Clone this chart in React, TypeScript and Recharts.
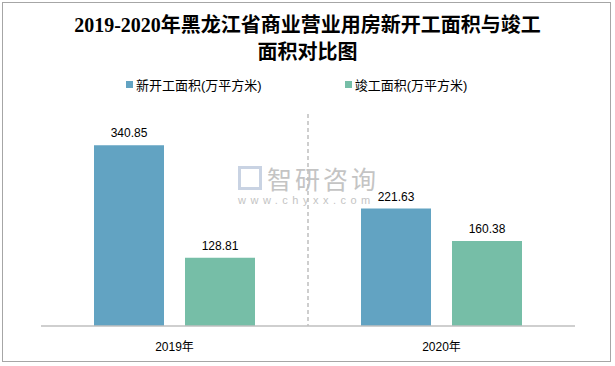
import React from "react";
import {
  BarChart,
  Bar,
  XAxis,
  YAxis,
  CartesianGrid,
  LabelList,
} from "recharts";

const years = ["2019年", "2020年"];
const newStarts = [340.85, 221.63];
const completions = [128.81, 160.38];

const SERIES = [
  { key: "newStart", name: "新开工面积(万平方米)", color: "#62A3C2" },
  { key: "completed", name: "竣工面积(万平方米)", color: "#76BEA7" },
];

const data = years.map((year, i) => ({
  year,
  newStart: newStarts[i],
  completed: completions[i],
}));

const FONT = "'Liberation Sans', 'Noto Sans CJK SC', sans-serif";

const LegendBox = () => (
  <div
    style={{
      position: "absolute",
      top: 75,
      left: 126,
      display: "flex",
      fontFamily: FONT,
      fontSize: 13,
      color: "#000",
    }}
  >
    {SERIES.map((s, i) => (
      <div
        key={s.key}
        style={{ display: "flex", alignItems: "center", marginRight: i === 0 ? 83 : 0 }}
      >
        <span
          style={{ width: 7, height: 7, background: s.color, display: "inline-block", marginRight: 3 }}
        />
        <span>{s.name}</span>
      </div>
    ))}
  </div>
);

export default function App() {
  return (
    <div
      style={{
        position: "absolute",
        left: 0,
        top: 0,
        width: 615,
        height: 366,
        background: "#fff",
      }}
    >
      <div
        style={{
          position: "absolute",
          left: 2,
          top: 2,
          width: 607,
          height: 358,
          border: "1px solid #a6a6a6",
        }}
      />
      <div
        style={{
          position: "absolute",
          top: 12,
          left: 0,
          width: 615,
          textAlign: "center",
          fontFamily: "'Liberation Serif', 'Noto Sans CJK SC', serif",
          fontWeight: "bold",
          fontSize: 20,
          lineHeight: "27px",
          color: "#000",
        }}
      >
        2019-2020年黑龙江省商业营业用房新开工面积与竣工
        <br />
        面积对比图
      </div>
      <div
        style={{
          position: "absolute",
          left: 238,
          top: 160,
          color: "#c4c4c4",
          fontFamily: FONT,
          pointerEvents: "none",
        }}
      >
        <div style={{ display: "flex", alignItems: "center" }}>
          <span
            style={{
              width: 24,
              height: 24,
              border: "3px solid #c9d3e3",
              boxSizing: "border-box",
              marginRight: 5,
            }}
          />
          <span style={{ fontSize: 25, letterSpacing: 3 }}>智研咨询</span>
        </div>
        <div style={{ fontSize: 11, letterSpacing: 4.5, marginTop: -2 }}>www.chyxx.com</div>
      </div>
      <LegendBox />
      <div style={{ position: "absolute", left: 0, top: 0 }}>
        <BarChart
          width={615}
          height={366}
          data={data}
          margin={{ top: 114, right: 40, left: 41, bottom: 10 }}
          barSize={70}
          barGap={21}
        >
          <CartesianGrid
            horizontal={false}
            stroke="#bfbfbf"
            strokeWidth={1.5}
            strokeDasharray="4 3"
            verticalCoordinatesGenerator={({ offset }: any) => [
              offset.left + offset.width / 2,
            ]}
          />
          <XAxis
            dataKey="year"
            height={30}
            axisLine={{ stroke: "#bfbfbf", strokeWidth: 1.5 }}
            tickLine={false}
            tickSize={0}
            tickMargin={16}
            tick={{ fill: "#000", fontSize: 12, fontFamily: FONT }}
          />
          <YAxis hide domain={[0, 400]} />
          {SERIES.map((s) => (
            <Bar
              key={s.key}
              dataKey={s.key}
              name={s.name}
              fill={s.color}
              isAnimationActive={false}
            >
              <LabelList
                dataKey={s.key}
                position="top"
                offset={8}
                fill="#000"
                fontSize={12}
                fontFamily={FONT}
                formatter={(v: any) => Number(v).toFixed(2)}
              />
            </Bar>
          ))}
        </BarChart>
      </div>
    </div>
  );
}
